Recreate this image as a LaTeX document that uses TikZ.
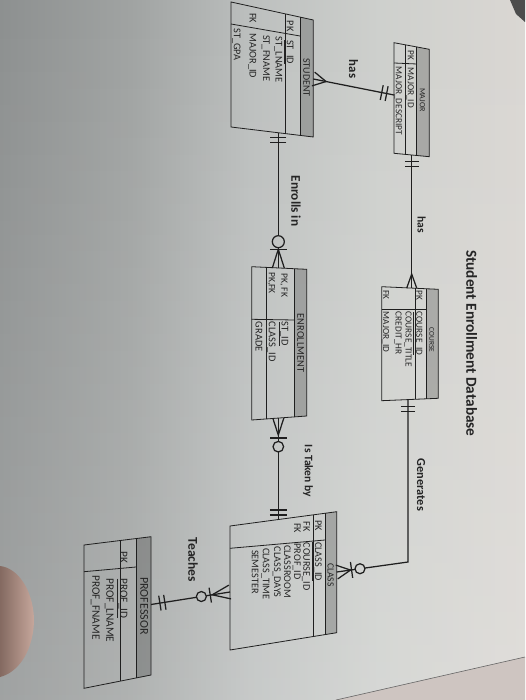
\documentclass[tikz,border=0pt]{standalone}
\usepackage{fontspec}
\setmainfont{Carlito}
\usetikzlibrary{calc,fadings}
\definecolor{ink}{HTML}{1F1F1F}
\definecolor{txt}{HTML}{252525}
\definecolor{skin}{HTML}{BC978A}
\definecolor{floorc}{HTML}{CEC5C1}
\pgfdeclarehorizontalshading{paper}{100bp}{rgb(0bp)=(.553,.565,.565); rgb(25bp)=(.553,.565,.565); rgb(37.4bp)=(.627,.639,.635); rgb(48.8bp)=(.737,.749,.745); rgb(61.2bp)=(.808,.816,.804); rgb(75bp)=(.855,.843,.827); rgb(100bp)=(.855,.843,.827)}
\tikzfading[name=fadebottom, top color=transparent!100, bottom color=transparent!0]
\newcommand\fs[1]{\fontsize{#1}{#1}\selectfont}
\newcommand\erfoot[4]{\draw[conn] ($(#1)!#4!90:(#2)$) -- ($(#1)!#3!(#2)$) -- ($(#1)!#4!-90:(#2)$);}
\newcommand\erbar[4]{\draw[conn] ($($(#1)!#3!(#2)$)!#4!90:(#2)$) -- ($($(#1)!#3!(#2)$)!#4!-90:(#2)$);}
\newcommand\ercirc[4]{\draw[conn] ($(#1)!#3!(#2)$) circle[radius=#4];}
\begin{document}
\begin{tikzpicture}[x=1pt,y=-1pt,
 conn/.style={draw=ink,line width=1.25pt},
 box/.style={draw=ink,line width=0.8pt},
 hdr/.style={fill=black,fill opacity=0.2},
 att/.style={rotate=-90,anchor=west,inner sep=0pt,text=txt,text height=.644em,text depth=0pt},
 ttl/.style={rotate=-90,anchor=center,inner sep=0pt,text=txt,text height=.644em,text depth=0pt},
 lbl/.style={rotate=-90,anchor=center,inner sep=0pt,text=txt}]
\useasboundingbox (0,0) rectangle (525,700);
\shade[shading=paper] (0,0) rectangle (525,700);
\fill[white,path fading=fadebottom,fill opacity=0.17] (0,0) rectangle (525,700);
% photo surroundings
\fill[floorc] (336,700) -- (525,657) -- (525,700) -- cycle;
\draw[black!60,line width=0.6pt] (336,700) -- (525,657);
\fill[black!70] (510,0) -- (525,0) -- (525,22) -- (516,14) -- cycle;
\shade[left color=skin!70!black,right color=skin!85!white] (0,566) .. controls (18,568) and (33,590) .. (34,619) .. controls (34,648) and (20,672) .. (0,677) -- cycle;

% ---------- STUDENT ----------
\coordinate (stu-tl) at (231,2); \coordinate (stu-tr) at (313.3,20);
\coordinate (stu-br) at (313.3,137); \coordinate (stu-bl) at (231,127);
\coordinate (stu-ht) at (300,17.1); \coordinate (stu-hb) at (300,135.4);
\fill[hdr] (stu-ht) -- (stu-tr) -- (stu-br) -- (stu-hb) -- cycle;
\draw[box] (stu-tl) -- (stu-tr) -- (stu-br) -- (stu-bl) -- cycle;
\draw[box] (stu-ht) -- (stu-hb);
\draw[box] (285,13.8) -- (285,133.6);
\draw[box] (231,24) -- (300,36);
\node[ttl,font=\fs{10}] (stu-name) at (306.7,77.5) {STUDENT};
\begin{scope}[every node/.append style={font=\fs{10.3}}]
\node[att] (stu-k1) at (290,20.7) {PK};
\node[att] (stu-a1) at (290,40) {\underline{ST\_ID}};
\node[att] (stu-a2) at (278.8,36.7) {ST\_LNAME};
\node[att] (stu-a3) at (266.3,35) {ST\_FNAME};
\node[att] (stu-k4) at (252.8,13) {FK};
\node[att] (stu-a4) at (252.8,33.3) {MAJOR\_ID};
\node[att] (stu-a5) at (237,28.3) {ST\_GPA};
\end{scope}

% ---------- MAJOR ----------
\coordinate (maj-tl) at (394,42.7); \coordinate (maj-tr) at (429.3,49.3);
\coordinate (maj-br) at (429.3,156.7); \coordinate (maj-bl) at (394,153.3);
\coordinate (maj-ht) at (416.7,46.9); \coordinate (maj-hb) at (416.7,155.5);
\fill[hdr] (maj-ht) -- (maj-tr) -- (maj-br) -- (maj-hb) -- cycle;
\draw[box] (maj-tl) -- (maj-tr) -- (maj-br) -- (maj-bl) -- cycle;
\draw[box] (maj-ht) -- (maj-hb);
\draw[box] (405,44.8) -- (405,154.4);
\draw[box] (394,63) -- (416.7,64);
\node[ttl,font=\fs{8}] (maj-name) at (423,100) {MAJOR};
\begin{scope}[every node/.append style={font=\fs{9.3}}]
\node[att] (maj-k1) at (411,50) {PK};
\node[att] (maj-a1) at (411,67.5) {\underline{MAJOR\_ID}};
\node[att] (maj-a2) at (399.2,66.5) {MAJOR\_DESCRIPT};
\end{scope}

% ---------- COURSE ----------
\coordinate (crs-tl) at (381.7,286.7); \coordinate (crs-tr) at (438.3,289.3);
\coordinate (crs-br) at (438.3,398.3); \coordinate (crs-bl) at (381.7,400.7);
\coordinate (crs-ht) at (426.7,288.8); \coordinate (crs-hb) at (426.7,398.8);
\fill[hdr] (crs-ht) -- (crs-tr) -- (crs-br) -- (crs-hb) -- cycle;
\draw[box] (crs-tl) -- (crs-tr) -- (crs-br) -- (crs-bl) -- cycle;
\draw[box] (crs-ht) -- (crs-hb);
\draw[box] (415.7,288.3) -- (415.7,399.3);
\draw[box] (381.7,309.3) -- (426.7,309.3);
\node[ttl,font=\fs{7.4}] (crs-name) at (432.5,340) {COURSE};
\begin{scope}[every node/.append style={font=\fs{9.3}}]
\node[att] (crs-k1) at (419.5,290) {PK};
\node[att] (crs-a1) at (419.5,311.7) {\underline{COURSE\_ID}};
\node[att] (crs-a2) at (408.8,311.7) {COURSE\_TITLE};
\node[att] (crs-a3) at (398.8,311.7) {CREDIT\_HR};
\node[att] (crs-k4) at (386.3,290) {FK};
\node[att] (crs-a4) at (386.3,311.7) {MAJOR\_ID};
\end{scope}

% ---------- ENROLLMENT ----------
\coordinate (enr-tl) at (251.7,266.7); \coordinate (enr-tr) at (306.7,269.3);
\coordinate (enr-br) at (306.7,416); \coordinate (enr-bl) at (251.7,420);
\coordinate (enr-ht) at (294.3,268.7); \coordinate (enr-hb) at (294.3,416.9);
\fill[hdr] (enr-ht) -- (enr-tr) -- (enr-br) -- (enr-hb) -- cycle;
\draw[box] (enr-tl) -- (enr-tr) -- (enr-br) -- (enr-bl) -- cycle;
\draw[box] (enr-ht) -- (enr-hb);
\draw[box] (266.7,267.4) -- (266.7,418.9);
\draw[box] (251.7,319.3) -- (294.3,320);
\node[ttl,font=\fs{10.3}] (enr-name) at (300.5,343) {ENROLLMENT};
\begin{scope}[every node/.append style={font=\fs{10.4}}]
\node[att,font=\fs{9.6}] (enr-k1) at (284.5,273) {PK, FK};
\node[att] (enr-a1) at (284.8,321.7) {\underline{ST\_ID}};
\node[att,font=\fs{9.6}] (enr-k2) at (272.2,272) {PK,FK};
\node[att] (enr-a2) at (272,321.7) {\underline{CLASS\_ID}};
\node[att] (enr-a3) at (258.8,321.7) {GRADE};
\end{scope}

% ---------- CLASS ----------
\coordinate (cls-tl) at (230,526); \coordinate (cls-tr) at (336.7,511.7);
\coordinate (cls-br) at (336.7,632.7); \coordinate (cls-bl) at (230,650);
\coordinate (cls-ht) at (325,513.3); \coordinate (cls-hb) at (325,634.6);
\fill[hdr] (cls-ht) -- (cls-tr) -- (cls-br) -- (cls-hb) -- cycle;
\draw[box] (cls-tl) -- (cls-tr) -- (cls-br) -- (cls-bl) -- cycle;
\draw[box] (cls-ht) -- (cls-hb);
\draw[box] (313,514.9) -- (313,636.6);
\draw[box] (230,548.3) -- (325,540);
\node[ttl,font=\fs{9.5}] (cls-name) at (330.8,575) {CLASS};
\begin{scope}[every node/.append style={font=\fs{10.2}}]
\node[att] (cls-k1) at (318.3,520) {PK};
\node[att] (cls-a1) at (318.3,542) {\underline{CLASS\_ID}};
\node[att] (cls-k2) at (306.7,521.7) {FK};
\node[att] (cls-a2) at (306.7,542.5) {COURSE\_ID};
\node[att] (cls-k3) at (297.3,523) {FK};
\node[att] (cls-a3) at (297.3,543.5) {PROF\_ID};
\node[att] (cls-a4) at (287.3,545) {CLASSROOM};
\node[att] (cls-a5) at (277.3,546.5) {CLASS\_DAYS};
\node[att] (cls-a6) at (266,548) {CLASS\_TIME};
\node[att] (cls-a7) at (255,550) {SEMESTER};
\end{scope}

% ---------- PROFESSOR ----------
\coordinate (prf-tl) at (84,545); \coordinate (prf-tr) at (151,536.7);
\coordinate (prf-br) at (151,675); \coordinate (prf-bl) at (84,688.3);
\coordinate (prf-ht) at (136,538.6); \coordinate (prf-hb) at (136,678);
\fill[hdr] (prf-ht) -- (prf-tr) -- (prf-br) -- (prf-hb) -- cycle;
\draw[box] (prf-tl) -- (prf-tr) -- (prf-br) -- (prf-bl) -- cycle;
\draw[box] (prf-ht) -- (prf-hb);
\draw[box] (120,540.5) -- (120,681.2);
\draw[box] (84,571.7) -- (136,567);
\node[ttl,font=\fs{12}] (prf-name) at (143.5,606) {PROFESSOR};
\begin{scope}[every node/.append style={font=\fs{11.3}}]
\node[att] (prf-k1) at (123.3,551.7) {PK};
\node[att] (prf-a1) at (123.3,578.3) {\underline{PROF\_ID}};
\node[att] (prf-a2) at (109.7,578.3) {PROF\_LNAME};
\node[att] (prf-a3) at (95.5,575) {PROF\_FNAME};
\end{scope}

% ---------- connector end points ----------
\coordinate (c1s) at (313.3,79);  \coordinate (c1m) at (394,95);
\coordinate (c2m) at (411.7,155.2); \coordinate (c2c) at (411.7,288.1);
\coordinate (c3c) at (408,399.6); \coordinate (c3k) at (408,562); \coordinate (c3l) at (336.7,572);
\coordinate (c4s) at (278.3,132.7); \coordinate (c4e) at (278.3,268);
\coordinate (c5e) at (278.3,418.1); \coordinate (c5k) at (278.3,519.6);
\coordinate (c6k) at (230,592); \coordinate (c6p) at (151,604.5);

% STUDENT -- MAJOR (has)
\draw[conn] (c1s) -- (c1m);
\erfoot{c1s}{c1m}{13pt}{7pt}
\erbar{c1m}{c1s}{7.5pt}{7.5pt}
\erbar{c1m}{c1s}{12.5pt}{7.5pt}
% MAJOR -- COURSE (has)
\draw[conn] (c2m) -- (c2c);
\erfoot{c2c}{c2m}{14pt}{5pt}
\erbar{c2m}{c2c}{6.5pt}{7pt}
\erbar{c2m}{c2c}{11.5pt}{7pt}
% COURSE -- CLASS (Generates)
\draw[conn] (c3c) -- (c3k) -- ($(c3l)!28.5pt!(c3k)$);
\draw[conn] ($(c3l)!18.5pt!(c3k)$) -- (c3l);
\ercirc{c3l}{c3k}{23.5pt}{5pt}
\erbar{c3l}{c3k}{15pt}{8pt}
\erfoot{c3l}{c3k}{14pt}{7pt}
\erbar{c3c}{c3k}{7pt}{7pt}
\erbar{c3c}{c3k}{12pt}{7pt}
% STUDENT -- ENROLLMENT (Enrolls in)
\draw[conn] (c4s) -- ($(c4e)!32.3pt!(c4s)$);
\draw[conn] ($(c4e)!20.3pt!(c4s)$) -- (c4e);
\ercirc{c4e}{c4s}{26.3pt}{6pt}
\erbar{c4e}{c4s}{18.7pt}{8.5pt}
\erfoot{c4e}{c4s}{18.7pt}{6pt}
\erbar{c4s}{c4e}{4.5pt}{8pt}
\erbar{c4s}{c4e}{9.5pt}{8pt}
% ENROLLMENT -- CLASS (Is Taken by)
\draw[conn] (c5e) -- ($(c5e)!23.3pt!(c5k)$);
\draw[conn] ($(c5e)!33.9pt!(c5k)$) -- (c5k);
\ercirc{c5e}{c5k}{28.6pt}{5.3pt}
\erbar{c5e}{c5k}{20pt}{8.5pt}
\erfoot{c5e}{c5k}{17pt}{5.5pt}
\erbar{c5k}{c5e}{4.6pt}{8.5pt}
\erbar{c5k}{c5e}{9.6pt}{8.5pt}
% CLASS -- PROFESSOR (Teaches)
\draw[conn] (c6k) -- ($(c6k)!24pt!(c6p)$);
\draw[conn] ($(c6k)!34pt!(c6p)$) -- (c6p);
\ercirc{c6k}{c6p}{29pt}{5pt}
\erbar{c6k}{c6p}{20pt}{7.5pt}
\erfoot{c6k}{c6p}{18pt}{7pt}
\erbar{c6p}{c6k}{9pt}{7.5pt}
\erbar{c6p}{c6k}{14pt}{7.5pt}

% ---------- labels ----------
\node[lbl,font=\bfseries\fs{12.8}] (l-has1) at (353.5,69) {has};
\node[lbl,font=\bfseries\fs{11.6}] (l-has2) at (421.7,225) {has};
\node[lbl,font=\bfseries\fs{12.3}] (l-gen) at (421,485) {Generates};
\node[lbl,font=\bfseries\fs{13.3}] (l-enr) at (296,201) {Enrolls in};
\node[lbl,font=\bfseries\fs{11.5}] (l-tak) at (308,471) {Is Taken by};
\node[lbl,font=\bfseries\fs{13.5}] (l-tea) at (193,560) {Teaches};
\node[lbl,font=\bfseries\fs{15.3}] (title) at (471.7,343.3) {Student Enrollment Database};
\end{tikzpicture}
\end{document}
